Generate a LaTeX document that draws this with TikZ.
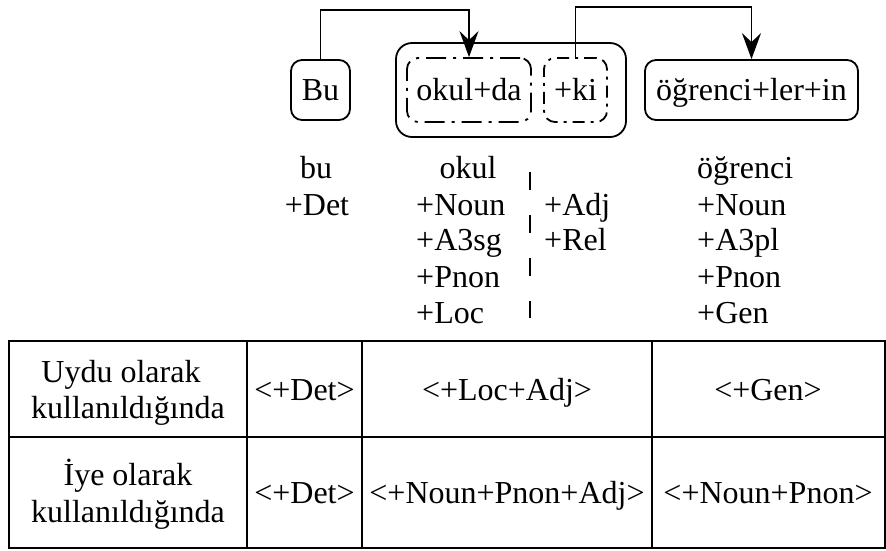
\documentclass[tikz,border=0pt]{standalone}
\usepackage{fontspec}
\setmainfont{Liberation Serif}
\usetikzlibrary{arrows.meta,calc}

\tikzset{
  ln/.style={line width=1.8pt},
  wordbox/.style={ln, draw, rounded corners=11pt, inner sep=0pt,
    text height=22pt, text depth=2pt},
  groupbox/.style={ln, draw, rounded corners=16pt, inner sep=0pt},
  stembox/.style={wordbox, dash pattern=on 20pt off 7pt on 3pt off 7pt},
  suffixbox/.style={wordbox, dash pattern=on 12pt off 6pt on 3pt off 6pt},
  link/.style={ln, -{Stealth[length=26pt,width=19pt,inset=9pt]}},
  lbl/.style={anchor=base, inner sep=0pt},
  lblw/.style={anchor=base west, inner sep=0pt},
}

\begin{document}
\begin{tikzpicture}[x=1pt,y=-1pt,font=\fontsize{32}{38}\selectfont]
\useasboundingbox (0,0) rectangle (886,550);

% word boxes
\node[wordbox, minimum width=59pt, minimum height=60pt] (bu) at (320.5,90) {Bu};
\node[groupbox, minimum width=230pt, minimum height=94pt] (grp) at (511,90) {};
\node[stembox, minimum width=124pt, minimum height=64pt] (okul) at (469,90) {okul+da};
\node[suffixbox, minimum width=63pt, minimum height=64pt] (ki) at (575.5,90) {+ki};
\node[wordbox, minimum width=213pt, minimum height=60pt] (ogr) at (751.5,90) {öğrenci+ler+in};

% dependency links
\draw[link] (bu.north) -- ++(0,-49) -| (okul.north);
\draw[link] (ki.north) -- ++(0,-50) -| (ogr.north);

% analyses
\node[lbl] (a1) at (316,178) {bu};
\node[lbl] (a2) at (317,215) {+Det};

\node[lbl] (b1) at (468,178) {okul};
\node[lblw] (b2) at (416,215) {+Noun};
\node[lblw] (b3) at (416,250) {+A3sg};
\node[lblw] (b4) at (416,287) {+Pnon};
\node[lblw] (b5) at (416,323) {+Loc};
\node[lblw] (c1) at (544,215) {+Adj};
\node[lblw] (c2) at (544,250) {+Rel};

\coordinate (sepTop) at (530,172);
\coordinate (sepBot) at (530,318);
\draw[ln, dash pattern=on 18pt off 25pt] (sepTop) -- (sepBot);

\node[lblw] (d1) at (697,178) {öğrenci};
\node[lblw] (d2) at (697,215) {+Noun};
\node[lblw] (d3) at (697,250) {+A3pl};
\node[lblw] (d4) at (697,287) {+Pnon};
\node[lblw] (d5) at (697,323) {+Gen};

% table
\coordinate (tl) at (9,341);
\coordinate (br) at (885,548);
\coordinate (ml) at (9,437);
\coordinate (mr) at (885,437);
\coordinate (v1t) at (247,341); \coordinate (v1b) at (247,548);
\coordinate (v2t) at (362,341); \coordinate (v2b) at (362,548);
\coordinate (v3t) at (652,341); \coordinate (v3b) at (652,548);
\draw[ln] (tl) rectangle (br);
\draw[ln] (ml) -- (mr);
\draw[ln] (v1t) -- (v1b);
\draw[ln] (v2t) -- (v2b);
\draw[ln] (v3t) -- (v3b);

\node[lbl] (r1a) at (121,382) {Uydu olarak};
\node[lbl] (r1b) at (128,418) {kullanıldığında};
\node[lbl] (r1c) at (304.5,400) {<+Det>};
\node[lbl] (r1d) at (507,400) {<+Loc+Adj>};
\node[lbl] (r1e) at (768,400) {<+Gen>};

\node[lbl] (r2a) at (128,485) {İye olarak};
\node[lbl] (r2b) at (128,522) {kullanıldığında};
\node[lbl] (r2c) at (304.5,503) {<+Det>};
\node[lbl] (r2d) at (507,503) {<+Noun+Pnon+Adj>};
\node[lbl] (r2e) at (768,503) {<+Noun+Pnon>};
\end{tikzpicture}
\end{document}
